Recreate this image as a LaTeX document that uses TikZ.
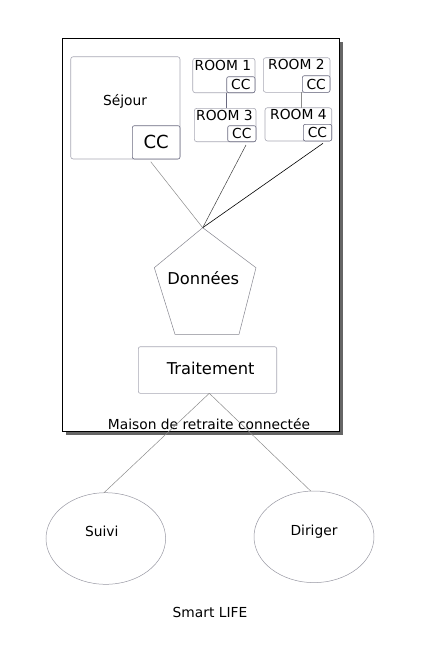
\documentclass[tikz,border=0pt]{standalone}
\usepackage{fontspec}
\setmainfont{DejaVu Sans}
\definecolor{boxgray}{HTML}{A8A8B4}
\definecolor{ccgray}{HTML}{6A6A80}
\definecolor{linegray}{HTML}{8C8C8C}
\definecolor{shadowgray}{HTML}{666666}
\begin{document}
\begin{tikzpicture}[x=1pt,y=-1pt,
  room/.style={draw=boxgray,line width=0.6pt,rounded corners=2.5pt},
  ccbox/.style={draw=ccgray,line width=0.6pt,rounded corners=2pt,fill=white},
  conn/.style={draw=linegray,line width=0.5pt},
  lbl/.style={inner sep=0pt,font=\fontsize{13.8}{15}\selectfont},
  big/.style={inner sep=0pt,font=\fontsize{16.3}{18}\selectfont}]
\useasboundingbox (0,0) rectangle (432,649);
% main frame with shadow
\fill[shadowgray] (66,42) rectangle (342.5,435);
\draw[fill=white,line width=0.6pt] (62,38) rectangle (339,431.5);
% Sejour
\draw[room] (70.7,56.7) rectangle (180,159);
\node[lbl] (sej) at (125,101.7) {Séjour};
\draw[ccbox] (132.3,125.7) rectangle (180,159);
\node[inner sep=0pt,font=\fontsize{18}{20}\selectfont] (cc0) at (156.2,142.3) {CC};
% Room 1
\draw[room] (192.7,58.3) rectangle (255,92.7);
\node[lbl,anchor=north west] (r1) at (194.5,60.5) {ROOM 1};
\draw[ccbox] (226.7,76.7) rectangle (255,92.7);
\node[lbl] (cc1) at (240.8,84.7) {CC};
% Room 2
\draw[room] (263.3,57.7) rectangle (330,92.3);
\node[lbl,anchor=north west] (r2) at (268,59.5) {ROOM 2};
\draw[ccbox] (302.3,75.7) rectangle (330,92.3);
\node[lbl] (cc2) at (316.2,84) {CC};
% Room 3
\draw[room] (194.3,108.3) rectangle (256,141.7);
\node[lbl,anchor=north west] (r3) at (196,110.5) {ROOM 3};
\draw[ccbox] (227.7,125.7) rectangle (256,141.7);
\node[lbl] (cc3) at (241.8,133.7) {CC};
% Room 4
\draw[room] (265,107.7) rectangle (331.7,141);
\node[lbl,anchor=north west] (r4) at (270,109.5) {ROOM 4};
\draw[ccbox] (303.3,124.3) rectangle (331.7,141);
\node[lbl] (cc4) at (317.5,132.7) {CC};
% vertical links
\coordinate (r1b) at (226,92.7);
\coordinate (r3t) at (226,108.3);
\coordinate (r2b) at (301.7,92.3);
\coordinate (r4t) at (301.7,107.7);
\draw[conn,draw=ccgray] (r1b) -- (r3t);
\draw[conn] (r2b) -- (r4t);
% convergence
\coordinate (top) at (202.7,227.7);
\coordinate (s0) at (150.7,161.7);
\coordinate (s3) at (246,145);
\coordinate (s4) at (323,143.3);
\draw[conn] (s0) -- (top);
\draw[conn,draw=black!75] (s3) -- (top);
\draw[draw=black,line width=0.6pt] (s4) -- (top);
% pentagon
\coordinate (pl) at (154.3,267.7);
\coordinate (pr) at (256,267.7);
\coordinate (pbl) at (175,334.3);
\coordinate (pbr) at (239,334.3);
\draw[draw=boxgray!80!black,line width=0.5pt] (top) -- (pr) -- (pbr) -- (pbl) -- (pl) -- cycle;
\node[big] (don) at (203.3,278.3) {Données};
% Traitement
\draw[room,rounded corners=2pt] (138.3,346.7) rectangle (276.7,393.3);
\node[big] (tra) at (210.7,368.3) {Traitement};
\coordinate (trb) at (209.3,393.3);
% frame label
\node[lbl] (mai) at (209,424) {Maison de retraite connectée};
% ellipses
\draw[draw=boxgray!90!black,line width=0.5pt] (105.8,538.5) ellipse [x radius=59.8,y radius=45.8];
\draw[draw=boxgray!90!black,line width=0.5pt] (314,536.8) ellipse [x radius=60,y radius=45.8];
\coordinate (su) at (104,492.7);
\coordinate (di) at (310.7,491);
\node[lbl] (sui) at (101.7,531) {Suivi};
\node[lbl] (dir) at (314,531.7) {Diriger};
\draw[conn] (trb) -- (su);
\draw[conn] (trb) -- (di);
\node[lbl] (sl) at (210,612.7) {Smart LIFE};
\end{tikzpicture}
\end{document}
